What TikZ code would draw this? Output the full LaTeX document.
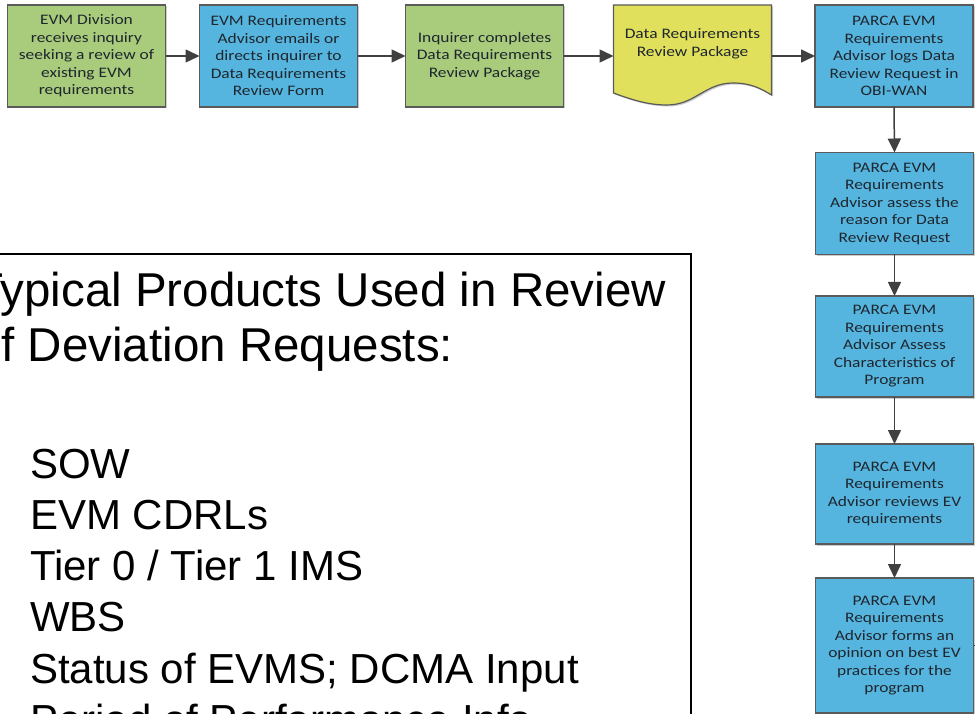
\documentclass[tikz,border=0pt]{standalone}
\usepackage{fontspec}
\setmainfont{Liberation Sans}
\newfontfamily\boxfont[FakeStretch=1.2]{Carlito}
\usetikzlibrary{arrows.meta,shadows}
\definecolor{boxgreen}{HTML}{A8CB7C}
\definecolor{boxblue}{HTML}{55B5DE}
\definecolor{docyellow}{HTML}{E0E05C}
\definecolor{edgegray}{HTML}{5A5A5A}
\definecolor{arrowgray}{HTML}{404040}
\definecolor{boxtextcol}{HTML}{1F262E}
\tikzset{
  flowbox/.style={rectangle, draw=edgegray, line width=1.2pt, minimum width=158pt,
    minimum height=102pt, inner sep=0pt, outer sep=0pt, align=center, text=boxtextcol,
    font=\boxfont\fontsize{14.5}{17.5}\selectfont,
    drop shadow={shadow xshift=1.5pt, shadow yshift=-1.5pt, fill=black, opacity=0.2}},
  greenbox/.style={flowbox, fill=boxgreen},
  bluebox/.style={flowbox, fill=boxblue},
  docbox/.style={rectangle, minimum width=158pt, minimum height=102pt, inner sep=0pt, outer sep=0pt},
  docshape/.style={draw=edgegray, line width=1.2pt, fill=docyellow,
    drop shadow={shadow xshift=1.5pt, shadow yshift=-1.5pt, fill=black, opacity=0.2}},
  doctext/.style={align=center, text=boxtextcol, inner sep=0pt, font=\boxfont\fontsize{14.5}{17.5}\selectfont},
  flowarrow/.style={draw=arrowgray, line width=1.5pt, -{Triangle[length=14pt,width=13pt]}},
  stubline/.style={draw=arrowgray, line width=1.5pt},
  framebox/.style={draw=black, line width=2pt},
  headtext/.style={anchor=base west, inner sep=0pt, font=\fontsize{47.5}{55}\selectfont},
  listtext/.style={anchor=base west, inner sep=0pt, font=\fontsize{42}{50}\selectfont}
}
\begin{document}
\begin{tikzpicture}[x=1pt,y=-1pt]
\useasboundingbox (0,0) rectangle (975,714);
\clip (0,0) rectangle (975,714);
\fill[white] (0,0) rectangle (975,714);

% top row
\node[greenbox] (box1) at (86.5,56) {EVM Division\\receives inquiry\\seeking a review of\\existing EVM\\requirements};
\node[bluebox] (box2) at (278.5,56) {EVM Requirements\\Advisor emails or\\directs inquirer to\\Data Requirements\\Review Form};
\node[greenbox] (box3) at (484.5,56) {Inquirer completes\\Data Requirements\\Review Package};
\node[docbox] (box4) at (692.5,56) {};
\path[docshape] (613.5,5) -- (771.5,5) -- (771.5,95)
  .. controls (760,88) and (750,83) .. (733,83)
  .. controls (705,83) and (695,105) .. (667,105)
  .. controls (650,105) and (635,101) .. (613.5,93) -- cycle;
\node[doctext] (box4text) at (692.5,44) {Data Requirements\\Review Package};
\node[bluebox] (box5) at (894,56) {PARCA EVM\\Requirements\\Advisor logs Data\\Review Request in\\OBI-WAN};

% column
\node[bluebox] (box6) at (894.5,203.5) {PARCA EVM\\Requirements\\Advisor assess the\\reason for Data\\Review Request};
\node[bluebox, minimum height=101pt] (box7) at (894.5,346.5) {PARCA EVM\\Requirements\\Advisor Assess\\Characteristics of\\Program};
\node[bluebox, minimum height=100pt] (box8) at (894.5,494) {PARCA EVM\\Requirements\\Advisor reviews EV\\requirements};
\node[bluebox, minimum height=135pt] (box9) at (894.5,645.5) {PARCA EVM\\Requirements\\Advisor forms an\\opinion on best EV\\practices for the\\program};

% connectors
\draw[flowarrow] (box1.east) -- (box2.west);
\draw[flowarrow] (box2.east) -- (box3.west);
\draw[flowarrow] (box3.east) -- (box4.west);
\draw[flowarrow] (box4.east) -- (box5.west);
\draw[flowarrow] (box5.south) -- (box6.north);
\draw[flowarrow] (box6.south) -- (box7.north);
\draw[flowarrow] (box7.south) -- (box8.north);
\draw[flowarrow] (box8.south) -- (box9.north);
\coordinate (stubend) at (985,645.5);
\draw[stubline] (box9.east) -- (stubend);

% text frame
\draw[framebox] (-10,254) rectangle (691,740);
\node[headtext] (head1) at (-26,306) {Typical Products Used in Review};
\node[headtext] (head2) at (-25,361) {of Deviation Requests:};
\node[listtext] (item1) at (30,478) {SOW};
\node[listtext] (item2) at (30,529.25) {EVM CDRLs};
\node[listtext] (item3) at (30,580.5) {Tier 0 / Tier 1 IMS};
\node[listtext] (item4) at (30,631.75) {WBS};
\node[listtext] (item5) at (30,683) {Status of EVMS; DCMA Input};
\node[listtext] (item6) at (30,734.25) {Period of Performance Info};
\end{tikzpicture}
\end{document}
